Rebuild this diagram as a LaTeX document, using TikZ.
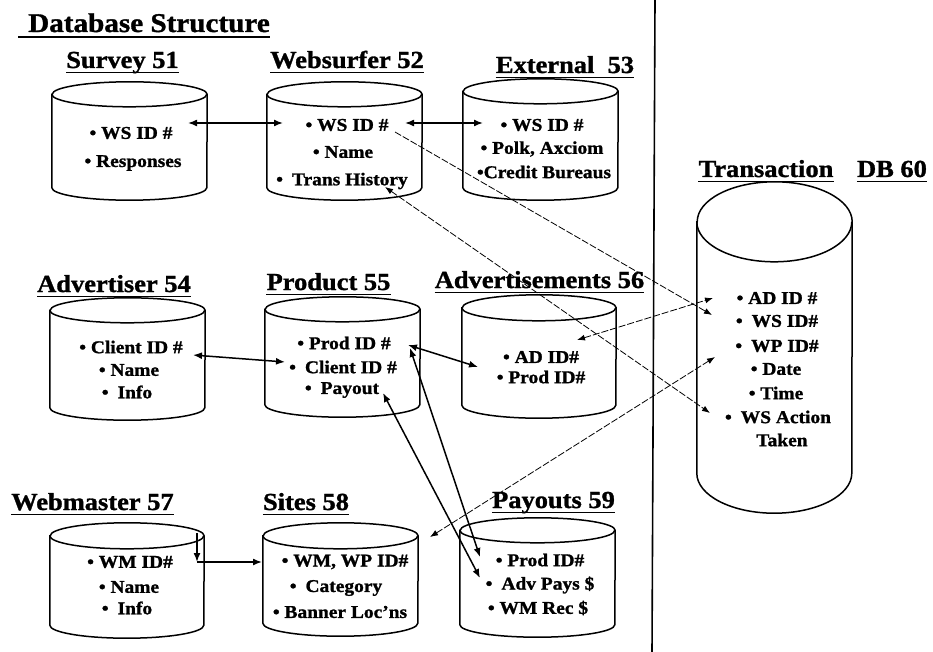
\documentclass[tikz,border=0pt]{standalone}
\usepackage{fontspec}
\setmainfont{Liberation Serif}[FakeStretch=1.08, BoldFeatures={FakeBold=1.2}]
\usetikzlibrary{arrows.meta,calc}

% cylinder outline drawn around a named box node: #1 node, #2 x radius, #3 y radius
\newcommand\dbcyl[3]{%
  \draw[cylline] ([yshift=-#3]#1.north west) -- ([yshift=#3]#1.south west)
    arc[start angle=180,end angle=360,x radius=#2,y radius=#3]
    -- ([yshift=-#3]#1.north east)
    arc[start angle=0,end angle=180,x radius=#2,y radius=#3] -- cycle;
  \draw[cylline] ([yshift=-#3]#1.north west)
    arc[start angle=180,end angle=360,x radius=#2,y radius=#3];
}

\tikzset{
  cylline/.style={line width=1.5pt},
  cylbox/.style={inner sep=0pt, draw=none},
  item/.style={font=\fontsize{18}{20}\selectfont\bfseries, inner sep=0pt},
  dblabel/.style={font=\fontsize{24.5}{28}\selectfont\bfseries, inner sep=0pt, anchor=base},
  titlestyle/.style={font=\fontsize{27}{30}\selectfont\bfseries, inner sep=0pt, anchor=base west},
  uline/.style={line width=1.8pt},
  solidlink/.style={line width=1.5pt},
  dashlink/.style={line width=0.8pt, dash pattern=on 7pt off 2pt},
  twohead/.style={{Latex[length=9pt,width=7pt]}-{Latex[length=9pt,width=7pt]}},
  onehead/.style={-{Latex[length=9pt,width=7pt]}},
  twosmall/.style={{Latex[length=8pt,width=6pt]}-{Latex[length=8pt,width=6pt]}},
  onesmall/.style={-{Latex[length=8pt,width=6pt]}},
}

\begin{document}
\begin{tikzpicture}[x=1pt,y=-1pt]
\useasboundingbox (0,0) rectangle (933,652);

% ---------- title and separator ----------
\node[titlestyle] (title) at (28,32) {Database Structure};
\draw[uline] ([shift={(-10pt,-5pt)}]title.base west) -- ([yshift=-5pt]title.base east);
\coordinate (sepTop) at (655,0);
\coordinate (sepBot) at (652,652);
\draw[line width=1.6pt] (sepTop) -- (sepBot);

% ---------- cylinders ----------
\node[cylbox, minimum width=155pt, minimum height=118pt] (c51) at (129.5,141) {};
\node[cylbox, minimum width=155pt, minimum height=118pt] (c52) at (344.5,141) {};
\node[cylbox, minimum width=155pt, minimum height=121pt] (c53) at (540.5,139.5) {};
\node[cylbox, minimum width=155pt, minimum height=122pt] (c54) at (127.5,359) {};
\node[cylbox, minimum width=155pt, minimum height=120pt] (c55) at (342.5,357) {};
\node[cylbox, minimum width=154pt, minimum height=123pt] (c56) at (539,356.5) {};
\node[cylbox, minimum width=154pt, minimum height=115pt] (c57) at (127,580.5) {};
\node[cylbox, minimum width=155pt, minimum height=113pt] (c58) at (340.5,579.5) {};
\node[cylbox, minimum width=155pt, minimum height=119pt] (c59) at (537.5,577.5) {};
\node[cylbox, minimum width=155pt, minimum height=331pt] (c60) at (774.5,347.5) {};
\dbcyl{c51}{77.5pt}{12.5pt}
\dbcyl{c52}{77.5pt}{12.5pt}
\dbcyl{c53}{77.5pt}{12.5pt}
\dbcyl{c54}{77.5pt}{12.5pt}
\dbcyl{c55}{77.5pt}{12.5pt}
\dbcyl{c56}{77pt}{13pt}
\dbcyl{c57}{77pt}{13pt}
\dbcyl{c58}{77.5pt}{13pt}
\dbcyl{c59}{77.5pt}{12.5pt}
\dbcyl{c60}{77.5pt}{40pt}

% ---------- labels ----------
\node[dblabel] (l51) at (122.5,68) {Survey 51};
\node[dblabel] (l52) at (347,68) {Websurfer 52};
\node[dblabel] (l53) at (565,73) {External\ \ 53};
\node[dblabel] (l54) at (114,292) {Advertiser 54};
\node[dblabel] (l55) at (328.5,290) {Product 55};
\node[dblabel] (l56) at (539.5,288) {Advertisements 56};
\node[dblabel] (l57) at (92.5,510) {Webmaster 57};
\node[dblabel] (l58) at (306,510) {Sites 58};
\node[dblabel] (l59) at (553.5,508) {Payouts 59};
\node[dblabel] (l60a) at (766,177) {Transaction};
\node[dblabel] (l60b) at (892,177) {DB 60};
\foreach \n in {l51,l52,l53,l54,l55,l56,l57,l58,l59,l60a,l60b}
  \draw[uline] ([yshift=-4.5pt]\n.base west) -- ([yshift=-4.5pt]\n.base east);

% ---------- fields ----------
\node[item] (s1) at (131,133) {• WS ID \#};
\node[item] (s2) at (133,163) {• Responses};

\node[item] (w1) at (347,125) {• WS ID \#};
\node[item] (w2) at (343,152) {• Name};
\node[item] (w3) at (342,181) {•\enspace Trans History};

\node[item] (x1) at (542,125) {• WS ID \#};
\node[item] (x2) at (542,149) {• Polk, Axciom};
\node[item] (x3) at (544,172) {•Credit Bureaus};

\node[item] (a1) at (131,347) {• Client ID \#};
\node[item] (a2) at (129,370) {• Name};
\node[item] (a3) at (127,392) {•\enspace Info};

\node[item] (p1) at (344,343) {• Prod ID \#};
\node[item] (p2) at (343,367) {•\enspace Client ID \#};
\node[item] (p3) at (342,390) {•\enspace Payout};

\node[item] (d1) at (541,357) {• AD ID\#};
\node[item] (d2) at (541,377) {• Prod ID\#};

\node[item] (t1) at (777,298) {• AD ID \#};
\node[item] (t2) at (777,321) {•\enspace WS ID\#};
\node[item] (t3) at (777,346) {•\enspace WP ID\#};
\node[item] (t4) at (776,369) {• Date};
\node[item] (t5) at (776,393) {• Time};
\node[item] (t6) at (778,417) {•\enspace WS Action};
\node[item] (t7) at (782,440) {Taken};

\node[item] (m1) at (130,562) {• WM ID\#};
\node[item] (m2) at (129,587) {• Name};
\node[item] (m3) at (127,608) {•\enspace Info};

\node[item] (e1) at (345,562) {• WM, WP ID\#};
\node[item] (e2) at (336,588) {•\enspace Category};
\node[item] (e3) at (340,612) {• Banner Loc'ns};

\node[item] (y1) at (540,560) {• Prod ID\#};
\node[item] (y2) at (540,585) {•\enspace Adv Pays \$};
\node[item] (y3) at (538,608) {• WM Rec \$};

% ---------- links between fields ----------
\draw[solidlink, twohead] ([shift={(57pt,10pt)}]s1.center) -- ([shift={(-64pt,2pt)}]w1.center);
\draw[solidlink, twohead] ([shift={(58pt,2pt)}]w1.center) -- ([shift={(-59pt,2pt)}]x1.center);
\draw[solidlink, twohead] ([shift={(62pt,-8pt)}]a1.center) -- ([shift={(-58pt,5pt)}]p2.center);
\draw[solidlink, twohead] ([shift={(64pt,-2pt)}]p1.center) -- ([shift={(-63pt,-10pt)}]d1.center);
\draw[solidlink, twohead] ([shift={(66pt,-5pt)}]p1.center) -- ([shift={(-60pt,3pt)}]y1.center);
\draw[solidlink, twohead] ([shift={(41pt,-3pt)}]p3.center) -- ([shift={(-60pt,7pt)}]y2.center);
\coordinate (wmtick) at ([shift={(67pt,29pt)}]m1.center);
\draw[solidlink, onehead] (wmtick) -- ([shift={(67pt,0pt)}]m1.center);
\draw[solidlink, onehead] ([shift={(67pt,0pt)}]m1.center) -- ([shift={(-83pt,0pt)}]e1.center);

\draw[dashlink, onesmall] ([shift={(48pt,-7pt)}]w1.center) -- ([shift={(-65pt,6pt)}]t2.center);
\draw[dashlink, twosmall] ([shift={(43pt,-6pt)}]w3.center) -- ([shift={(-68pt,4pt)}]t6.center);
\draw[dashlink, twosmall] ([shift={(36pt,17pt)}]d1.center) -- ([shift={(-64pt,0pt)}]t1.center);
\draw[dashlink, twosmall] ([shift={(85pt,25pt)}]e1.center) -- ([shift={(-62pt,-11pt)}]t3.center);
\end{tikzpicture}
\end{document}
